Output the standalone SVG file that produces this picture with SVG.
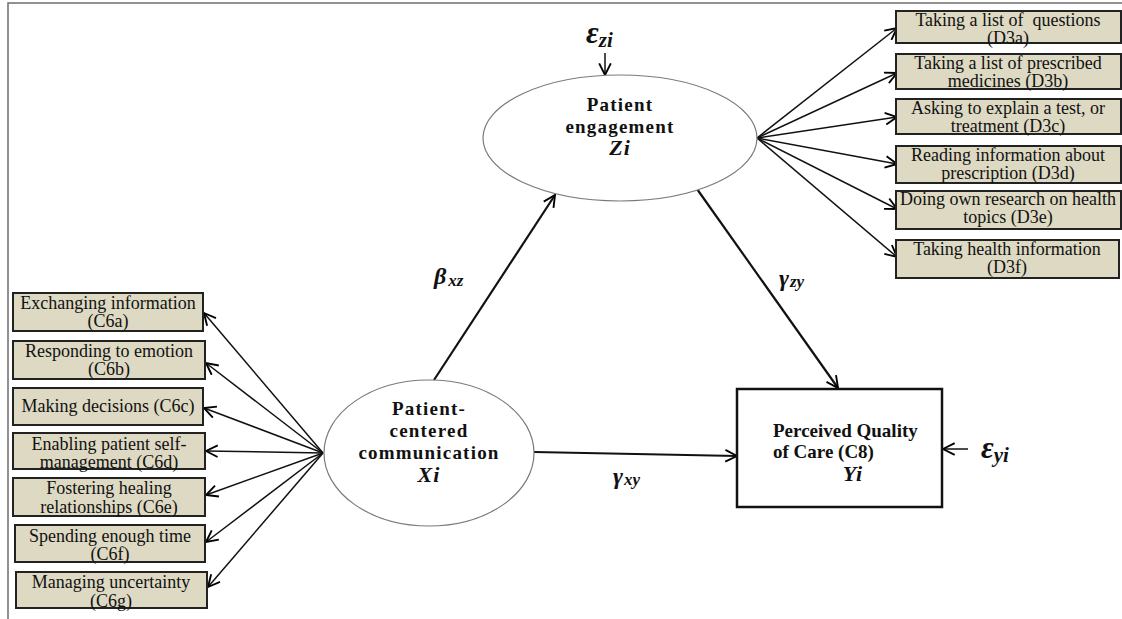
<svg xmlns="http://www.w3.org/2000/svg" width="1122" height="619" viewBox="0 0 1122 619">
  <defs>
    <marker id="arr" markerUnits="userSpaceOnUse" markerWidth="14" markerHeight="14" viewBox="0 0 12 12" refX="11" refY="6" orient="auto">
      <path d="M1,1 L11,6 L1,11" fill="none" stroke="#000" stroke-width="1.6"/>
    </marker>
    <style>
      .frame { stroke: #6e6e6e; stroke-width: 1.5; fill: none; }
      .ind { fill: #ddd9c3; stroke: #222; stroke-width: 2; }
      .ind-t { font-family: "Liberation Serif", "Times New Roman", serif; font-size: 18px; fill: #111; text-anchor: middle; }
      .lat { fill: #fff; stroke: #7a7a7a; stroke-width: 1.2; }
      .lat-t { font-family: "Liberation Serif", "Times New Roman", serif; font-size: 19px; font-weight: bold; letter-spacing: 1.2px; fill: #111; text-anchor: middle; }
      .obs { fill: #fff; stroke: #111; stroke-width: 2.5; }
      .obs-t { font-family: "Liberation Serif", "Times New Roman", serif; font-size: 19px; font-weight: bold; fill: #111; }
      .math { font-family: "Liberation Serif", "Times New Roman", serif; font-weight: bold; font-style: italic; fill: #111; }
      .thin { stroke: #111; stroke-width: 1.5; fill: none; marker-end: url(#arr); }
      .thick { stroke: #111; stroke-width: 2.2; fill: none; marker-end: url(#arr); }
    </style>
  </defs>

  <!-- page frame -->
  <path class="frame" d="M8,619 L8,3 L1122,3"/>

  <!-- structural paths and indicator arrows -->
  <g id="connectors">
    <!-- Xi -> Zi -->
    <line class="thick" x1="434" y1="380" x2="555" y2="195"/>
    <!-- Zi -> Yi -->
    <line class="thick" x1="697" y1="189" x2="838" y2="388"/>
    <!-- Xi -> Yi -->
    <line class="thick" x1="534" y1="452" x2="737" y2="456"/>
    <!-- error terms -->
    <line class="thin" x1="605" y1="53" x2="605" y2="75"/>
    <line class="thin" x1="968" y1="449" x2="943" y2="449"/>
    <!-- Zi indicators -->
    <line class="thin" x1="757" y1="138" x2="897" y2="28"/>
    <line class="thin" x1="757" y1="138" x2="897" y2="73"/>
    <line class="thin" x1="757" y1="138" x2="897" y2="117"/>
    <line class="thin" x1="757" y1="138" x2="897" y2="164"/>
    <line class="thin" x1="757" y1="138" x2="897" y2="209"/>
    <line class="thin" x1="757" y1="138" x2="897" y2="257"/>
    <!-- Xi indicators -->
    <line class="thin" x1="323" y1="453" x2="204" y2="313"/>
    <line class="thin" x1="323" y1="453" x2="206" y2="363"/>
    <line class="thin" x1="323" y1="453" x2="204" y2="408"/>
    <line class="thin" x1="323" y1="453" x2="206" y2="451"/>
    <line class="thin" x1="323" y1="453" x2="206" y2="495"/>
    <line class="thin" x1="323" y1="453" x2="206" y2="542"/>
    <line class="thin" x1="323" y1="453" x2="208" y2="587"/>
  </g>

  <!-- path coefficient labels -->
  <g id="coefficients">
    <text class="math" x="434" y="284" font-size="24">β<tspan font-size="17" dx="2" dy="2">xz</tspan></text>
    <text class="math" x="779" y="286" font-size="24">γ<tspan font-size="17" dx="1" dy="1">zy</tspan></text>
    <text class="math" x="613" y="484" font-size="24">γ<tspan font-size="17" dx="1" dy="1">xy</tspan></text>
  </g>

  <!-- error terms -->
  <g id="error-z">
    <text class="math" x="586" y="43" font-size="31">ε<tspan font-size="21" dy="4">zi</tspan></text>
  </g>
  <g id="error-y">
    <text class="math" x="981" y="458" font-size="31">ε<tspan font-size="21" dy="4">yi</tspan></text>
  </g>

  <!-- latent: patient engagement -->
  <g id="node-zi">
    <ellipse class="lat" cx="620" cy="138" rx="137" ry="63"/>
    <text class="lat-t" x="620" y="111">Patient</text>
    <text class="lat-t" x="620" y="133">engagement</text>
    <text class="math" x="620" y="155" font-size="22" text-anchor="middle" letter-spacing="1">Zi</text>
  </g>

  <!-- latent: patient-centered communication -->
  <g id="node-xi">
    <ellipse class="lat" cx="429" cy="453" rx="105" ry="73"/>
    <text class="lat-t" x="429" y="415">Patient-</text>
    <text class="lat-t" x="429" y="437">centered</text>
    <text class="lat-t" x="429" y="459">communication</text>
    <text class="math" x="429" y="482" font-size="22" text-anchor="middle" letter-spacing="1">Xi</text>
  </g>

  <!-- observed outcome -->
  <g id="node-yi">
    <rect class="obs" x="737" y="389" width="205" height="118"/>
    <text class="obs-t" x="773" y="437">Perceived Quality</text>
    <text class="obs-t" x="773" y="458">of Care (C8)</text>
    <text class="math" x="853" y="481" font-size="22" text-anchor="middle" letter-spacing="1">Yi</text>
  </g>

  <!-- engagement indicators -->
  <g id="node-d3a">
    <rect class="ind" x="896" y="11" width="225" height="32"/>
    <text class="ind-t" x="1008" y="26" xml:space="preserve">Taking a list of  questions</text>
    <text class="ind-t" x="1008" y="44">(D3a)</text>
  </g>
  <g id="node-d3b">
    <rect class="ind" x="896" y="54" width="225" height="35"/>
    <text class="ind-t" x="1008" y="69">Taking a list of prescribed</text>
    <text class="ind-t" x="1008" y="87">medicines (D3b)</text>
  </g>
  <g id="node-d3c">
    <rect class="ind" x="896" y="99" width="225" height="35"/>
    <text class="ind-t" x="1008" y="114">Asking to explain a test, or</text>
    <text class="ind-t" x="1008" y="132">treatment (D3c)</text>
  </g>
  <g id="node-d3d">
    <rect class="ind" x="896" y="146" width="225" height="37"/>
    <text class="ind-t" x="1008" y="161">Reading information about</text>
    <text class="ind-t" x="1008" y="179">prescription (D3d)</text>
  </g>
  <g id="node-d3e">
    <rect class="ind" x="896" y="191" width="225" height="38"/>
    <text class="ind-t" x="1008" y="205">Doing own research on health</text>
    <text class="ind-t" x="1008" y="223">topics (D3e)</text>
  </g>
  <g id="node-d3f">
    <rect class="ind" x="896" y="240" width="223" height="38"/>
    <text class="ind-t" x="1007" y="255">Taking health information</text>
    <text class="ind-t" x="1007" y="273">(D3f)</text>
  </g>

  <!-- communication indicators -->
  <g id="node-c6a">
    <rect class="ind" x="13" y="293" width="190" height="38"/>
    <text class="ind-t" x="108" y="309">Exchanging information</text>
    <text class="ind-t" x="108" y="327">(C6a)</text>
  </g>
  <g id="node-c6b">
    <rect class="ind" x="13" y="341" width="192" height="38"/>
    <text class="ind-t" x="109" y="357">Responding to emotion</text>
    <text class="ind-t" x="109" y="375">(C6b)</text>
  </g>
  <g id="node-c6c">
    <rect class="ind" x="13" y="388" width="190" height="37"/>
    <text class="ind-t" x="108" y="412">Making decisions (C6c)</text>
  </g>
  <g id="node-c6d">
    <rect class="ind" x="13" y="433" width="192" height="36"/>
    <text class="ind-t" x="109" y="450">Enabling patient self-</text>
    <text class="ind-t" x="109" y="468">management (C6d)</text>
  </g>
  <g id="node-c6e">
    <rect class="ind" x="13" y="478" width="192" height="38"/>
    <text class="ind-t" x="109" y="494">Fostering healing</text>
    <text class="ind-t" x="109" y="513">relationships (C6e)</text>
  </g>
  <g id="node-c6f">
    <rect class="ind" x="15" y="525" width="190" height="37"/>
    <text class="ind-t" x="110" y="542">Spending enough time</text>
    <text class="ind-t" x="110" y="560">(C6f)</text>
  </g>
  <g id="node-c6g">
    <rect class="ind" x="16" y="572" width="191" height="36"/>
    <text class="ind-t" x="111" y="588">Managing uncertainty</text>
    <text class="ind-t" x="111" y="607">(C6g)</text>
  </g>
</svg>
